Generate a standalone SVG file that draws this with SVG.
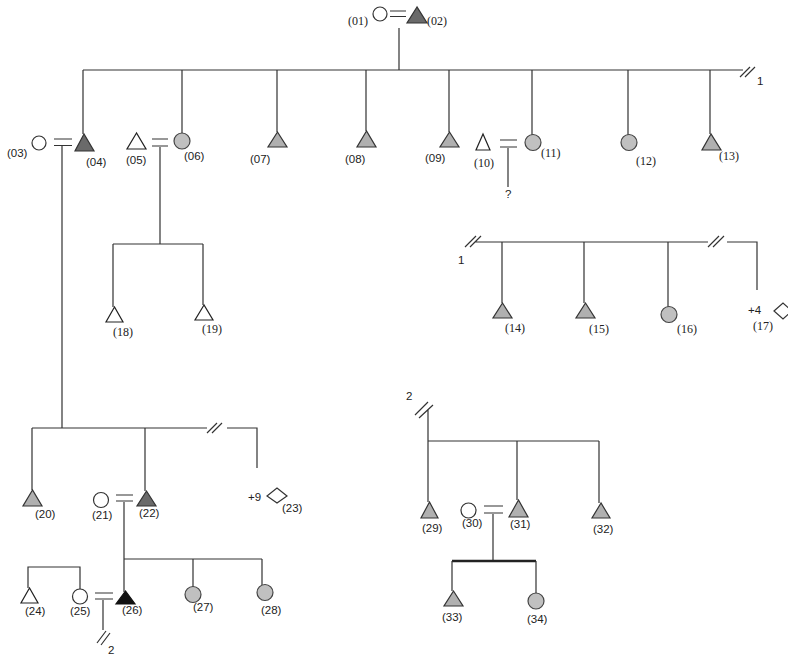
<svg xmlns="http://www.w3.org/2000/svg" width="788" height="657" viewBox="0 0 788 657">
<style>
.ln{stroke:#333;stroke-width:1.2;fill:none}
.thick{stroke:#222;stroke-width:2.5;fill:none}
.tw{fill:#fff;stroke:#222;stroke-width:1.2}
.tg{fill:#b0b0b0;stroke:#333;stroke-width:1.2}
.td{fill:#6a6a6a;stroke:#333;stroke-width:1.2}
.tb{fill:#111;stroke:#111;stroke-width:1.2}
.cw{fill:#fff;stroke:#333;stroke-width:1.2}
.cg{fill:#c0c0c0;stroke:#444;stroke-width:1.2}
.ss{font-family:"Liberation Sans",Arial,sans-serif;font-size:11.5px;fill:#222}
.sf{font-family:"Liberation Serif","Times New Roman",serif;font-size:12px;fill:#222}
</style>
<rect width="788" height="657" fill="#fff"/>
<g id="connectors">
<!-- top couple -->
<path class="ln" d="M390 11H406M390 16.5H406"/>
<path class="ln" d="M399 28V70M83 70H743M740 77L750 67M745 77L755 67"/>
<path class="ln" d="M83 70V134M182 70V133M277 70V132M366 70V131M449 70V132M532 70V135M628 70V135M710 70V134"/>
<!-- 03=04 -->
<path class="ln" d="M54 139H72M54 145.5H72M62 146V428"/>
<!-- 05=06 -->
<path class="ln" d="M152 139H168M152 146H168M160 147V244M113 244H203M113 244V307M203 244V305"/>
<!-- 10=11 -->
<path class="ln" d="M500 140H517M500 147H517M508 148V187"/>
<!-- 1 continuation -->
<path class="ln" d="M465 247L476 236M470 247L481 236M475 242H708M708 247L719 236M713 247L724 236M727 242H757V290"/>
<path class="ln" d="M502 242V303M584 242V303M668 242V307"/>
<!-- 03=04 children -->
<path class="ln" d="M32 428H207M207 433L217 423M212 433L222 423M227 428H257V468"/>
<path class="ln" d="M32 428V490M145 428V491"/>
<!-- 21=22 -->
<path class="ln" d="M116 495H133M116 501H133M124 502V592M124 559H262M193 559V587M262 559V585"/>
<!-- 24 / 25 -->
<path class="ln" d="M28 588V567H80V589"/>
<!-- 25=26 -->
<path class="ln" d="M95 593H113M95 599H113M103 600V630M97 643L106 631M101 645L110 633"/>
<!-- 2 continuation -->
<path class="ln" d="M415 415L428 402M419 418L433 405M428 410V502M428 441H599M517 441V500M599 441V503"/>
<!-- 30=31 -->
<path class="ln" d="M484 506H503M484 513H503M493 514V561"/>
<path class="thick" d="M452 561H536"/>
<path class="ln" d="M452 561V591M536 561V593"/>
</g>
<text class="ss" x="757" y="85">1</text>
<text class="ss" x="458" y="264">1</text>
<text class="ss" x="406" y="400">2</text>
<text class="ss" x="108" y="654">2</text>
<text class="ss" x="505" y="198" font-size="10">?</text>
<g id="n01"><circle class="cw" cx="380" cy="14" r="7"/><text class="sf" x="348" y="25">(01)</text></g>
<g id="n02"><polygon class="td" points="417,7 407,23 427,23"/><text class="sf" x="427" y="25">(02)</text></g>
<g id="n03"><circle class="cw" cx="39" cy="143" r="7"/><text class="ss" x="7" y="157">(03)</text></g>
<g id="n04"><polygon class="td" points="84,134 75,151 94,151"/><text class="ss" x="86" y="166">(04)</text></g>
<g id="n05"><polygon class="tw" points="136.5,133 127,149 146,149"/><text class="ss" x="126" y="164">(05)</text></g>
<g id="n06"><circle class="cg" cx="182" cy="141" r="8"/><text class="ss" x="184" y="160">(06)</text></g>
<g id="n07"><polygon class="tg" points="277.5,132 268,147 287,147"/><text class="ss" x="250" y="163">(07)</text></g>
<g id="n08"><polygon class="tg" points="366.5,131 357,147 376,147"/><text class="ss" x="345" y="163">(08)</text></g>
<g id="n09"><polygon class="tg" points="449.5,132 440,147 459,147"/><text class="ss" x="425" y="162">(09)</text></g>
<g id="n10"><polygon class="tw" points="483,134 476,150 490,150"/><text class="sf" x="474" y="167">(10)</text></g>
<g id="n11"><circle class="cg" cx="533" cy="142.5" r="8"/><text class="sf" x="541" y="157">(11)</text></g>
<g id="n12"><circle class="cg" cx="629" cy="142.5" r="8"/><text class="sf" x="636" y="165">(12)</text></g>
<g id="n13"><polygon class="tg" points="711,134 702,150 721,150"/><text class="sf" x="719" y="160">(13)</text></g>
<g id="n14"><polygon class="tg" points="502.5,303 493,318 512,318"/><text class="sf" x="505" y="332">(14)</text></g>
<g id="n15"><polygon class="tg" points="585.5,303 576,318 595,318"/><text class="sf" x="589" y="333">(15)</text></g>
<g id="n16"><circle class="cg" cx="669" cy="314.5" r="8"/><text class="sf" x="677" y="333">(16)</text></g>
<g id="n17"><text class="ss" x="748" y="314" font-size="10.5">+4</text><polygon class="cw" points="774,311 783,303 792,311 783,319"/><text class="sf" x="753" y="330">(17)</text></g>
<g id="n18"><polygon class="tw" points="114.5,307 106,322 123,322"/><text class="sf" x="113" y="336">(18)</text></g>
<g id="n19"><polygon class="tw" points="204,305 195,320 213,320"/><text class="sf" x="202" y="333">(19)</text></g>
<g id="n20"><polygon class="tg" points="32.5,490 23,506 42,506"/><text class="ss" x="35" y="518">(20)</text></g>
<g id="n21"><circle class="cw" cx="101" cy="500" r="7.5"/><text class="ss" x="92" y="519">(21)</text></g>
<g id="n22"><polygon class="td" points="146.5,491 137,506 156,506"/><text class="ss" x="139" y="517">(22)</text></g>
<g id="n23"><text class="ss" x="248" y="501" font-size="10.5">+9</text><polygon class="cw" points="267,496 277,488 287,496 277,503"/><text class="ss" x="282" y="512">(23)</text></g>
<g id="n24"><polygon class="tw" points="29.5,588 21,603 38,603"/><text class="ss" x="25" y="615">(24)</text></g>
<g id="n25"><circle class="cw" cx="80" cy="596.5" r="7.5"/><text class="ss" x="70" y="615">(25)</text></g>
<g id="n26"><polygon class="tb" points="125.5,591 116,604 135,604"/><text class="ss" x="122" y="614">(26)</text></g>
<g id="n27"><circle class="cg" cx="193" cy="594.5" r="8"/><text class="ss" x="193" y="611">(27)</text></g>
<g id="n28"><circle class="cg" cx="265" cy="592.5" r="8"/><text class="ss" x="261" y="614">(28)</text></g>
<g id="n29"><polygon class="tg" points="429.5,502 421,518 438,518"/><text class="ss" x="422" y="532">(29)</text></g>
<g id="n30"><circle class="cw" cx="468.5" cy="510.5" r="7.5"/><text class="ss" x="462" y="527">(30)</text></g>
<g id="n31"><polygon class="tg" points="518.5,500 509,517 528,517"/><text class="ss" x="510" y="528">(31)</text></g>
<g id="n32"><polygon class="tg" points="601,503 592,518 610,518"/><text class="ss" x="593" y="533">(32)</text></g>
<g id="n33"><polygon class="tg" points="453.5,591 444,606 463,606"/><text class="ss" x="442" y="621">(33)</text></g>
<g id="n34"><circle class="cg" cx="536" cy="601" r="8"/><text class="ss" x="527" y="623">(34)</text></g>
</svg>
